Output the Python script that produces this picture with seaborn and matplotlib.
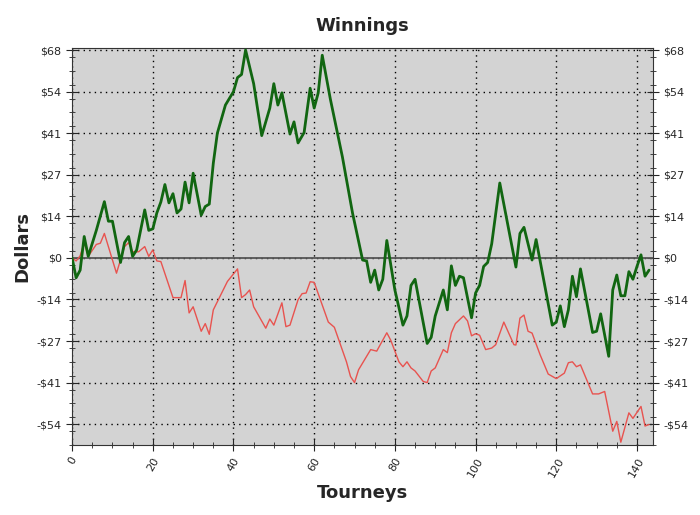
import numpy as np
import matplotlib
matplotlib.use('Agg')
import matplotlib.pyplot as plt
import seaborn as sns

# green series (vertices)
green_x = [0, 1, 2, 3, 4, 6, 8, 9, 10, 12, 13, 14, 15, 16, 18, 19, 20, 21, 22, 23, 24, 25, 26, 27, 28, 29, 30,
           32, 33, 34, 35, 36, 38, 40, 41, 42, 43, 45, 47, 49, 50, 51, 52, 54, 55, 56, 57.5, 59, 60, 61, 62,
           64, 67, 69.5, 72, 73, 74, 75, 76, 77, 78, 80, 82, 83, 84, 85, 88, 89, 90, 92, 93, 94, 95, 96, 97,
           99, 100, 101, 102, 103, 104, 106, 110, 111, 112, 114, 115, 119, 120, 121, 122, 123, 124, 125, 126,
           129, 130, 131, 133, 134, 135, 136, 137, 138, 139, 140, 141, 142, 143]
green_y = [0, -6.5, -4, 7, 0.5, 9, 18.4, 12, 12, -1.5, 5, 7, 0.5, 2.6, 15.7, 9, 9.5, 14.7, 18.3, 24, 18, 21,
           14.7, 16, 24.8, 18, 27.7, 14, 16.8, 17.6, 31, 40.8, 50, 54.4, 59, 60, 68, 57, 40, 49, 57, 50, 54,
           40.5, 44.5, 37.6, 41, 55.5, 49, 54, 66.3, 52, 33, 14.7, -0.7, -1, -8, -4, -10.5, -7, 5.7, -10.5,
           -22, -19, -9, -7, -28, -26, -19, -10.5, -17, -2.6, -9, -6, -6.5, -19.6, -11.5, -9, -2.8, -1.5, 4.6,
           24.5, -3, 8, 10, -0.7, 6, -22, -21, -15.7, -22.5, -17, -6, -12.7, -3.6, -24.4, -24, -18.3, -32.2,
           -10.5, -5.6, -12.4, -12.4, -4.5, -7, -2.8, 1, -6, -4]

# red series
red_x = [0, 1, 2, 3, 4, 6, 7, 8, 11, 13, 14, 15, 16.5, 18, 19, 20, 21, 22, 25, 27, 28, 29, 30, 32, 33, 34,
         35, 38.5, 41, 42, 43, 44, 45, 48, 49, 50, 52, 53, 54, 56, 57, 58, 59, 60, 63.5, 65, 68, 69, 70, 71,
         74, 75.5, 78, 79, 81, 82, 83, 84, 85, 87, 88, 89, 90, 92, 93, 94, 95, 97, 98, 99, 100, 101, 102.5,
         104, 105, 107, 109.5, 110, 111, 112, 113, 114, 116, 118, 120, 122, 123, 124, 125, 126, 129, 130.5,
         132, 134, 135, 136, 138, 139, 141, 142, 143]
red_y = [0, -1, 0.7, 5, 0.5, 4.4, 4.8, 8, -5, 3.7, 5, 2, 2, 3.7, 0.5, 2.6, -1, -1.2, -13, -13, -7.4, -18,
         -16, -24, -21.5, -25, -17, -7.7, -3.6, -13, -12, -10.5, -16, -23, -20, -22, -14.7, -22.5, -22,
         -13.7, -11.7, -11.5, -7.8, -8, -21, -22.7, -34, -38.8, -40.8, -36.6, -30, -30.5, -24.5, -27, -34,
         -35.6, -34, -36, -37, -40.4, -40.8, -37, -36, -30, -31, -24.5, -21.5, -19, -20.6, -25.5, -24.8,
         -25.3, -30, -29.5, -28.4, -21, -28.4, -28.5, -19.7, -18.7, -24, -24.6, -31.7, -38, -39.5, -37.7,
         -34.3, -34, -35.6, -35, -44.5, -44.5, -43.7, -56.7, -53.5, -60.3, -50.7, -52.5, -48.6, -55, -54.5]

yticks = [-54.4, -40.8, -27.2, -13.6, 0, 13.6, 27.2, 40.8, 54.4, 68]
ytick_labels = ['-$54', '-$41', '-$27', '-$14', '$0', '$14', '$27', '$41', '$54', '$68']

sns.set_style('white')
fig, ax = plt.subplots(figsize=(7, 5.15), dpi=100)
fig.patch.set_facecolor('white')
ax.set_facecolor('#d3d3d3')

ax.axhline(0, color='#555555', lw=1.3, zorder=1)
sns.lineplot(x=red_x, y=red_y, color='#e8534f', lw=1.0, ax=ax, zorder=3)
sns.lineplot(x=green_x, y=green_y, color='#116611', lw=2.0, ax=ax, zorder=4)

ax.set_xlim(0, 144)
ax.set_ylim(-61, 68.7)
ax.set_xticks(range(0, 141, 20))
ax.set_xticklabels([str(v) for v in range(0, 141, 20)], rotation=60, fontsize=8)
ax.set_xticks(np.arange(0, 144, 5), minor=True)
ax.set_yticks(yticks)
ax.set_yticklabels(ytick_labels, fontsize=8)
ax.set_yticks(np.arange(-61.2, 68.7, 4.533), minor=True)
ax.grid(True, which='major', color='black', linestyle=(0, (1, 3)), lw=1)
ax.tick_params(which='both', direction='inout', left=True, bottom=True, right=True,
               labelright=True, length=8)
ax.tick_params(which='minor', length=5)
for s in ax.spines.values():
    s.set_color('#333333')

ax.set_title('Winnings', fontsize=13, fontweight='bold', pad=12)
ax.set_xlabel('Tourneys', fontsize=13, fontweight='bold')
ax.set_ylabel('Dollars', fontsize=13, fontweight='bold')

plt.subplots_adjust(left=0.103, right=0.933, top=0.907, bottom=0.136)
fig.savefig('out.png', dpi=100)
